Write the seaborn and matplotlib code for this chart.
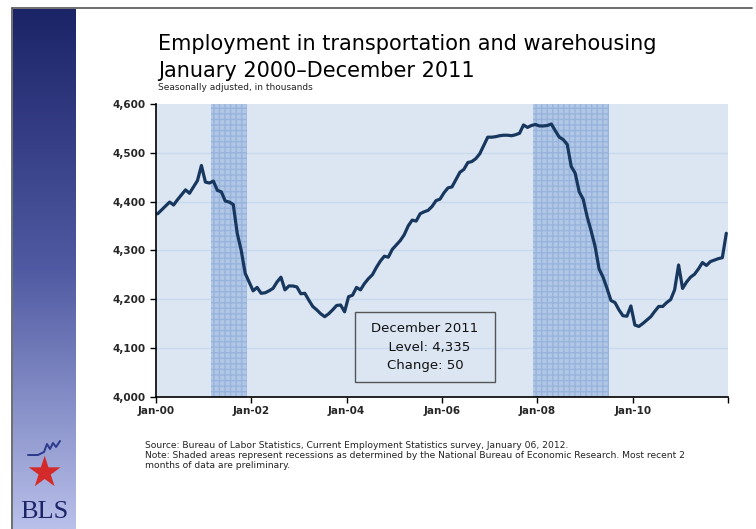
import numpy as np
import pandas as pd
import matplotlib
matplotlib.use("Agg")
import matplotlib.pyplot as plt
from matplotlib.lines import Line2D
from matplotlib.patches import Rectangle
import seaborn as sns

# ----------------------------
# DATA (thousands, seasonally adjusted, Jan 2000 - Dec 2011)
# ----------------------------
y2000 = [4375, 4383, 4391, 4399, 4393, 4404, 4414, 4424, 4417, 4430, 4443, 4474]
y2001 = [4440, 4438, 4442, 4423, 4420, 4401, 4399, 4394, 4335, 4300, 4253, 4235]
y2002 = [4217, 4224, 4212, 4213, 4217, 4222, 4235, 4245, 4219, 4227, 4227, 4225]
y2003 = [4211, 4212, 4198, 4185, 4178, 4170, 4164, 4170, 4178, 4187, 4188, 4174]
y2004 = [4205, 4208, 4224, 4219, 4232, 4242, 4250, 4265, 4278, 4288, 4286, 4302]
y2005 = [4311, 4320, 4332, 4350, 4362, 4360, 4375, 4379, 4382, 4390, 4402, 4405]
y2006 = [4418, 4428, 4430, 4445, 4460, 4466, 4480, 4482, 4488, 4498, 4515, 4532]
y2007 = [4532, 4533, 4535, 4536, 4536, 4535, 4537, 4540, 4557, 4552, 4556, 4558]
y2008 = [4555, 4555, 4556, 4559, 4545, 4532, 4527, 4517, 4472, 4458, 4420, 4405]
y2009 = [4369, 4340, 4308, 4262, 4245, 4222, 4197, 4193, 4178, 4166, 4165, 4186]
y2010 = [4147, 4144, 4150, 4157, 4164, 4175, 4185, 4185, 4193, 4199, 4219, 4270]
y2011 = [4222, 4235, 4245, 4251, 4262, 4275, 4269, 4277, 4280, 4283, 4285, 4335]

tick_labels = ["Jan-00", "Jan-02", "Jan-04", "Jan-06", "Jan-08", "Jan-10", ""]
y_ticks = [4000, 4100, 4200, 4300, 4400, 4500, 4600]
# recessions as (first month index, month index after end)
recessions = [(14, 23), (95, 114)]

values = y2000 + y2001 + y2002 + y2003 + y2004 + y2005 + y2006 + y2007 + y2008 + y2009 + y2010 + y2011
df = pd.DataFrame({"month": np.arange(len(values)) + 0.5, "level": values})

# ----------------------------
# FIGURE
# ----------------------------
sns.set_theme(style="white")
plt.rcParams['font.family'] = ['DejaVu Sans']

W, H = 756, 529
fig = plt.figure(figsize=(W / 100, H / 100), dpi=100)
fig.patch.set_facecolor("white")

# left gradient bar
bar_ax = fig.add_axes([13 / W, 0, 63 / W, 1 - 9 / H])
grad = np.linspace(0, 1, 256).reshape(-1, 1)
cmap = matplotlib.colors.LinearSegmentedColormap.from_list("bar", ["#1c2468", "#4f5aa2", "#b9c0ea"])
bar_ax.imshow(grad, aspect="auto", cmap=cmap, extent=[0, 1, 0, 1], origin="upper")
bar_ax.axis("off")

# frame lines
fig.add_artist(Line2D([12 / W, 12 / W], [0, 1 - 8 / H], color="#555555", lw=1.2, transform=fig.transFigure))
fig.add_artist(Line2D([12 / W, 752 / W], [1 - 8 / H, 1 - 8 / H], color="#555555", lw=1.2, transform=fig.transFigure))

# BLS logo
fig.add_artist(Line2D(np.array([28, 38, 44, 47, 50, 53, 56, 60]) / W,
                      1 - np.array([455, 455, 452, 444, 449, 443, 447, 441]) / H,
                      color="#2b3a8c", lw=1.4, transform=fig.transFigure))
fig.text(44 / W, 1 - 474 / H, "★", color="#d42a2a", fontsize=30, ha="center", va="center")
fig.text(44 / W, 1 - 512 / H, "BLS", color="#1c2468", fontsize=19, ha="center", va="center",
         family=["Liberation Serif", "DejaVu Serif"])

# main axes
ax = fig.add_axes([155.7 / W, 1 - 396.7 / H, (728.3 - 155.7) / W, (396.7 - 104) / H])
ax.set_facecolor("#dce6f2")

for yv in y_ticks[1:-1]:
    ax.axhline(yv, color="#c9d9f0", lw=1, zorder=0.5)

for start, end in recessions:
    ax.axvspan(start, end, facecolor="#b1c7e6", edgecolor="#98b3dc", hatch="+++", lw=0, zorder=1)

sns.lineplot(data=df, x="month", y="level", ax=ax, color="#17375e", lw=2.3, zorder=3)

ax.set_xlim(0, 144)
ax.set_ylim(4000, 4600)
ax.set_xticks(np.arange(0, 145, 24))
ax.set_xticklabels(tick_labels, fontsize=7.5, fontweight="bold")
ax.set_yticks(y_ticks)
ax.set_yticklabels([f"{v:,}" for v in y_ticks], fontsize=7.5, fontweight="bold")
ax.set_xlabel("")
ax.set_ylabel("")
ax.tick_params(axis="both", direction="out", length=4, width=1, color="black", pad=3, bottom=True, left=True)
for side in ["top", "right"]:
    ax.spines[side].set_visible(False)
for side in ["left", "bottom"]:
    ax.spines[side].set_color("black")
    ax.spines[side].set_linewidth(1.2)
    ax.spines[side].set_zorder(4)

# callout box (pixel placement converted to axes fractions)
bx0, bx1, by0, by1 = 355, 495, 312, 382
ax.add_patch(Rectangle(((bx0 - 155.7) / 572.6, (396.7 - by1) / 292.7),
                       (bx1 - bx0) / 572.6, (by1 - by0) / 292.7,
                       transform=ax.transAxes, facecolor="none", edgecolor="#555555", lw=1, zorder=5))
cx = ((bx0 + bx1) / 2 - 155.7) / 572.6
for txt, ypix in [("December 2011", 329), ("  Level: 4,335", 347), ("Change: 50", 366)]:
    ax.text(cx, (396.7 - ypix) / 292.7, txt, transform=ax.transAxes,
            ha="center", va="center", fontsize=9.5, color="#111111", zorder=6)

# titles
fig.text(158 / W, 1 - 44 / H, "Employment in transportation and warehousing", fontsize=15, va="center", color="black")
fig.text(158 / W, 1 - 71 / H, "January 2000\u2013December 2011", fontsize=15, va="center", color="black")
fig.text(158 / W, 1 - 88 / H, "Seasonally adjusted, in thousands", fontsize=6.5, va="center", color="#222222")

# source / notes
src_font = ["Liberation Sans Narrow", "DejaVu Sans"]
fig.text(145 / W, 1 - 445 / H, "Source: Bureau of Labor Statistics, Current Employment Statistics survey, January 06, 2012.",
         fontsize=6.6, va="center", family=src_font, color="#222222")
fig.text(145 / W, 1 - 456 / H, "Note: Shaded areas represent recessions as determined by the National Bureau of Economic Research. Most recent 2",
         fontsize=6.6, va="center", family=src_font, color="#222222")
fig.text(145 / W, 1 - 466 / H, "months of data are preliminary.",
         fontsize=6.6, va="center", family=src_font, color="#222222")

fig.savefig("out.png", dpi=100)
